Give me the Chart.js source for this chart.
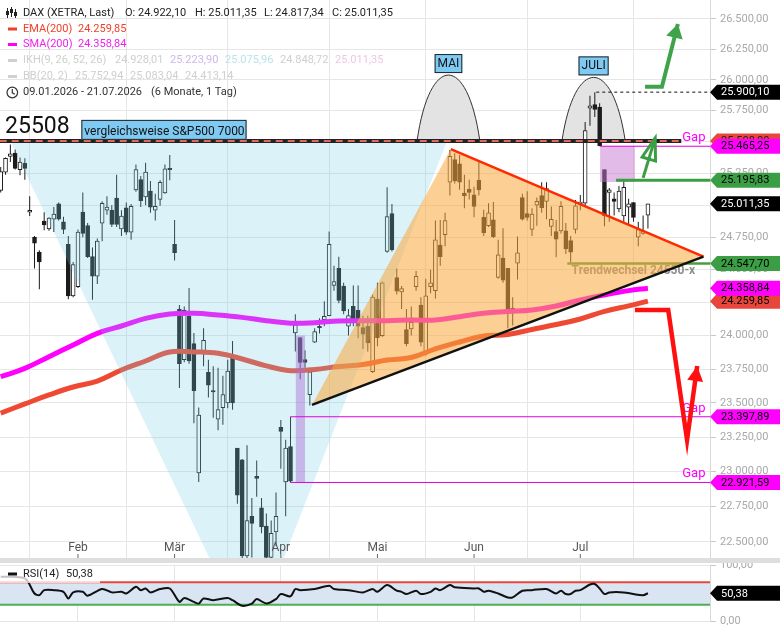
<!DOCTYPE html>
<html>
<head>
<meta charset="utf-8">
<title>DAX</title>
<script src="https://cdn.jsdelivr.net/npm/chart.js@4.4.1/dist/chart.umd.min.js"></script>
<style>
  body { margin: 0; background: #fff; }
  #wrap { position: relative; width: 780px; height: 625px; overflow: hidden; }
  #mainBox { position: absolute; left: 0; top: 0; width: 780px; height: 558px; }
  #sep { position: absolute; left: 0; top: 558px; width: 780px; height: 5px; background: #dedede; }
  #rsiBox { position: absolute; left: 0; top: 563px; width: 780px; height: 62px; }
</style>
</head>
<body>
<div id="wrap">
  <div id="mainBox"><canvas id="main"></canvas></div>
  <div id="sep"></div>
  <div id="rsiBox"><canvas id="rsi"></canvas></div>
</div>
<script>
const FONT = 'Roboto, "Liberation Sans", Arial, sans-serif';
const DARK = '#1b1b1b';

// x = trading day index, 0 = 09.01.2026, 134 = 21.07.2026
const monthIdx = [16, 36, 58, 78, 98, 120];
const monthLbl = ['Feb', 'Mär', 'Apr', 'Mai', 'Jun', 'Jul'];
const priceTicks = [22500, 22750, 23000, 23250, 23500, 23750, 24000, 24250, 24500, 24750, 25000, 25250, 25500, 25750, 26000, 26250, 26500];
const rsiTicks = [0, 100];

const open = [25115,25260,25385,25410,25280,25330,24945,24750,24635,24875,24815,24890,25010,24870,24695,24300,24370,24945,24840,24600,
  24450,24860,24960,24960,25055,24815,24980,24790,25120,25200,25065,25110,24960,25045,25095,25290,24695,24200,23820,24145,
  23940,22990,23880,23725,23590,23380,23465,23500,23840,23170,23085,22400,22680,22965,22740,22610,22390,22570,23320,22925,
  23180,24020,23985,23820,23560,23950,24070,24120,24150,24380,24510,24375,24070,24220,24190,24060,24070,23730,24275,24000,
  24640,24935,24440,24330,24045,24050,24370,24230,23870,24370,24340,24690,24770,25180,25360,25325,25095,25125,25080,25195,
  24905,24840,24885,24440,24590,24510,24205,24550,25060,24935,24810,25000,25075,25030,24835,24795,24800,24800,24725,24810,
  25010,25015,25770,25800,25780,25280,25100,25050,24970,24915,24985,25020,24750,24780,24922.10];
const high = [25300,25375,25480,25440,25375,25370,25070,24760,24650,24945,24905,24985,25020,24910,24760,24560,24810,25100,24860,24670,
  24740,25030,25070,25000,25240,24960,25020,25010,25320,25230,25335,25190,25090,25195,25320,25395,24885,24230,24220,24360,
  24020,23465,24055,23820,23770,23760,23700,23820,23960,23170,23090,23190,22810,23080,22810,22700,22650,22850,23375,23230,
  23397.89,24160,23985,23890,23760,24055,24130,24260,24795,24530,24600,24400,24200,24380,24380,24150,24150,24310,24400,24410,
  25140,25010,24510,24375,24200,24220,24490,24290,24430,24500,24880,24885,24940,25435,25410,25395,25240,25200,25145,25355,
  24965,25015,25025,24730,24820,24510,24290,24755,25090,25110,24975,25060,25180,25180,24990,24885,25030,24860,24760,25040,
  25080,25660,25870,25900.10,25810,25280,25135,25100,25150,25200,25050,25025,24870,24920,25011.35];
const low = [25100,25240,25340,25280,25235,25200,24915,24510,24350,24805,24800,24790,24880,24775,24275,24290,24360,24750,24590,24270,
  24390,24720,24925,24830,24830,24760,24770,24730,25105,24985,25000,24940,24880,24995,25090,25195,24570,23610,23800,23790,
  23350,22925,23770,23540,23390,23300,23340,23460,23450,22770,22380,22380,22390,22820,22560,22370,22370,22470,23020,22680,
  22921.59,23880,23675,23760,23480,23945,24015,24070,24150,24340,24245,24160,24000,24070,23980,23900,23880,23720,23920,23990,
  24630,24640,24310,24200,23920,24000,24340,23920,23850,24320,24280,24530,24680,25075,25170,25120,24975,25045,24905,25075,
  24760,24830,24745,24430,24400,24055,24075,24425,24880,24880,24760,24840,24940,24890,24760,24595,24780,24620,24560,24780,
  24960,24990,25630,25700,25465.25,24835,24870,24920,24945,24870,24840,24870,24680,24770,24817.34];
const close = [25265,25370,25405,25290,25340,25290,24960,24705,24560,24845,24900,24930,24890,24810,24300,24540,24790,24780,24600,24450,
  24720,25015,24985,24850,24850,24915,24790,24990,25280,25035,25260,24985,24990,25180,25285,25280,24630,23790,24190,23810,
  23590,23410,23965,23630,23580,23450,23560,23735,23500,22830,22400,22650,22630,22950,22605,22390,22560,22680,23290,23170,
  22930,24080,23800,23800,23730,24030,24060,24145,24695,24410,24265,24185,24150,24120,24070,24010,23945,24290,23985,24400,
  24910,24655,24335,24355,23940,24100,24450,23950,24300,24400,24730,24600,24880,25385,25190,25180,25075,25100,24990,25120,
  24785,24940,24755,24615,24420,24190,24185,24630,24890,24905,24930,25030,24980,25130,24890,24735,24990,24660,24635,24995,
  25025,25590,25790,25760,25470,24915,25120,25030,25110,25140,25010,24905,24810,24795,25011.35];

const maDays = [0,5,10,15,20,25,30,35,40,45,50,55,60,65,70,75,80,85,90,95,100,105,110,115,120,125,130,134];
const sma200 = [23693,23755,23842,23929,24017,24072,24130,24163,24168,24155,24137,24112,24093,24097,24110,24112,24112,24117,24117,24142,24168,24181,24193,24223,24269,24307,24340,24358.84];
const ema200 = [23425,23492,23558,23617,23661,23743,23810,23877,23877,23867,23825,23773,23738,23747,23769,23784,23817,23836,23900,23952,23997,24008,24046,24083,24125,24182,24224,24259.85];

const rsiDays = [0,5,7,8,9,11,13,14,15,17,18,21,23,25,26,28,29,30,31,33,35,37,38,40,41,42,44,47,48,50,52,53,55,57,58,60,61,62,65,68,69,72,75,77,
  78,80,82,83,84,86,87,89,90,91,93,94,98,99,100,101,103,105,106,108,110,113,115,116,117,118,119,120,122,123,124,125,126,129,131,133,134];
const rsi = [80,77,50,47,56,56,53,41,52,53,46,58,52,53,50,62,56,59,52,58,59,35,42,35,32,41,38,42,38,28,32,40,32,40,49,45,58,56,58,64,58,56,52,58,
  53,65,55,53,49,55,49,53,59,56,65,61,59,59,53,55,50,43,43,55,56,58,50,55,49,49,55,56,66,67,59,49,52,52,49,47,50.38];

// drawn analysis (day index, price)
const resistance = 25508;
const trendLevel = 24547.70;
const greenLevel = 25195.83;
const topHigh = 25900.10;
const gapLevels = [25465.25, 23397.89, 22921.59];
const gapFrom = [124.1, 60, 60];
const blueWedge = [[2.0, 25508], [92.4, 25508], [54.1, 22000], [48.7, 22000]];
const triangle = [[64.45, 23485], [93.2, 25443], [145.5, 24600]];
const domes = [{ text: 'MAI', from: 86.2, to: 99.2, peak: 26039 }, { text: 'JULI', from: 116.2, to: 129.3, peak: 26020 }];
const gapBoxes = [{ from: 61.1, to: 63.0, lo: 22921.59, hi: 24000, color: 'rgba(170,110,210,0.45)' },
                  { from: 124.1, to: 131.3, lo: 25182, hi: 25465.25, color: 'rgba(200,120,210,0.5)' }];
const upArrow = [[133.4, 25944], [136.9, 25944], [140.2, 26459]];
const smallArrow = [[133.0, 25214], [135.5, 25531]];
const downArrow = [[131.3, 24193], [138.2, 24193], [142.1, 23229], [144.2, 23773]];

const tagVals = [25508, 25900.10, 25465.25, 25195.83, 25011.35, 24547.70, 24259.85, 24358.84, 23397.89, 22921.59];
const tagBg = ['#e8453c', '#000', '#ff00ff', '#3c9e44', '#000', '#3c9e44', '#e8453c', '#ff00ff', '#ff00ff', '#ff00ff'];
const tagFg = ['#222', '#fff', '#000', '#000', '#fff', '#000', '#000', '#000', '#000', '#000'];

const xMin = -0.145, xMax = 146.85;

function fmt(v) {
  const s = v.toFixed(2).split('.');
  return s[0].replace(/\B(?=(\d{3})+(?!\d))/g, '.') + ',' + s[1];
}

function poly(ctx, pts) {
  ctx.beginPath();
  pts.forEach((p, k) => k ? ctx.lineTo(p[0], p[1]) : ctx.moveTo(p[0], p[1]));
  ctx.closePath();
}

function path(ctx, pts, color, w, dash) {
  ctx.beginPath();
  pts.forEach((p, k) => k ? ctx.lineTo(p[0], p[1]) : ctx.moveTo(p[0], p[1]));
  ctx.strokeStyle = color;
  ctx.lineWidth = w;
  ctx.setLineDash(dash || []);
  ctx.stroke();
  ctx.setLineDash([]);
}

function arrowHead(ctx, from, tip, len, hw) {
  const ang = Math.atan2(tip[1] - from[1], tip[0] - from[0]);
  const bx = tip[0] - len * Math.cos(ang), by = tip[1] - len * Math.sin(ang);
  ctx.beginPath();
  ctx.moveTo(tip[0], tip[1]);
  ctx.lineTo(bx + hw * Math.sin(ang), by - hw * Math.cos(ang));
  ctx.lineTo(bx - hw * Math.sin(ang), by + hw * Math.cos(ang));
  ctx.closePath();
}

function tag(ctx, x0, y, text, bg, fg) {
  ctx.beginPath();
  ctx.moveTo(x0, y);
  ctx.lineTo(x0 + 7, y - 7.5);
  ctx.lineTo(780, y - 7.5);
  ctx.lineTo(780, y + 7.5);
  ctx.lineTo(x0 + 7, y + 7.5);
  ctx.closePath();
  ctx.fillStyle = bg;
  ctx.fill();
  ctx.fillStyle = fg;
  ctx.font = '11px ' + FONT;
  ctx.textAlign = 'left';
  ctx.textBaseline = 'middle';
  ctx.fillText(text, x0 + 11, y + 0.5);
}

function xAxis() {
  return {
    type: 'linear', min: xMin, max: xMax, offset: false,
    afterBuildTicks: s => { s.ticks = monthIdx.map(v => ({ value: v })); },
    ticks: { display: false },
    grid: { color: '#e6e6e6', drawTicks: false },
    border: { display: false },
    afterFit: s => { s.height = 0; s.paddingLeft = 0; s.paddingRight = 0; }
  };
}

const mainPlugin = {
  id: 'mainOverlay',
  beforeDatasetsDraw(c) {
    const { ctx, chartArea: a } = c;
    const X = v => c.scales.x.getPixelForValue(v), Y = v => c.scales.y.getPixelForValue(v);
    ctx.save();
    ctx.beginPath(); ctx.rect(a.left, a.top, a.width, a.height); ctx.clip();
    domes.forEach(d => {
      const x0 = X(d.from), x1 = X(d.to), yb = Y(resistance);
      const h = (yb - Y(d.peak)) / 0.75, w = x1 - x0;
      ctx.beginPath();
      ctx.moveTo(x0, yb);
      ctx.bezierCurveTo(x0 + w * 0.2, yb - h, x1 - w * 0.2, yb - h, x1, yb);
      ctx.fillStyle = '#e3e3e3';
      ctx.fill();
      ctx.strokeStyle = '#333';
      ctx.lineWidth = 1;
      ctx.stroke();
    });
    ctx.restore();
  },
  afterDatasetsDraw(c) {
    const { ctx, chartArea: a } = c;
    const X = v => c.scales.x.getPixelForValue(v), Y = v => c.scales.y.getPixelForValue(v);
    const P = p => [X(p[0]), Y(p[1])];
    ctx.save();
    ctx.beginPath(); ctx.rect(a.left, a.top, a.width, a.height); ctx.clip();

    // trend change level and note, below the coloured overlays
    path(ctx, [[X(117.3), Y(trendLevel)], [a.right, Y(trendLevel)]], '#4a9e3a', 2.5);
    ctx.fillStyle = '#8d8d8d';
    ctx.font = 'bold 12px ' + FONT;
    ctx.textAlign = 'left';
    ctx.textBaseline = 'alphabetic';
    ctx.fillText('Trendwechsel 24550-x', X(118.2), Y(trendLevel) + 11);

    // blue wedge
    poly(ctx, blueWedge.map(P));
    ctx.fillStyle = 'rgba(110,205,228,0.25)';
    ctx.fill();

    // triangle
    poly(ctx, triangle.map(P));
    ctx.fillStyle = 'rgba(250,168,60,0.55)';
    ctx.fill();
    path(ctx, [P(triangle[1]), P(triangle[2])], '#ff2a00', 2.5);
    path(ctx, [P(triangle[0]), P(triangle[2])], '#111', 2.5);

    // resistance line
    const yr = Y(resistance);
    path(ctx, [[X(-0.2), yr], [X(140.9), yr]], '#222', 4);
    path(ctx, [[X(-0.2), yr], [X(140.9), yr]], '#e06a5a', 2, [7, 5]);

    // gap boxes and gap lines
    gapBoxes.forEach(b => {
      ctx.fillStyle = b.color;
      ctx.fillRect(X(b.from), Y(b.hi), X(b.to) - X(b.from), Y(b.lo) - Y(b.hi));
    });
    gapLevels.forEach((g, k) => {
      path(ctx, [[X(gapFrom[k]), Y(g)], [a.right, Y(g)]], '#e000e0', 1);
      ctx.fillStyle = '#ff00ff';
      ctx.font = '13px ' + FONT;
      ctx.fillText('Gap', X(141.1), Y(g) - 5);
    });

    // high of the run
    path(ctx, [[X(123.3), Y(topHigh)], [a.right, Y(topHigh)]], '#111', 1, [3, 3]);

    // green level and arrows
    path(ctx, [[X(127.4), Y(greenLevel)], [a.right, Y(greenLevel)]], '#3c9e44', 3);
    const sa = smallArrow.map(P);
    path(ctx, sa, '#3c9e44', 3);
    arrowHead(ctx, sa[0], sa[1], 22, 7);
    ctx.strokeStyle = '#3c9e44'; ctx.lineWidth = 3; ctx.lineJoin = 'miter'; ctx.stroke();

    const ua = upArrow.map(P);
    path(ctx, ua, '#3fa34a', 4);
    arrowHead(ctx, ua[1], ua[2], 14, 8.5);
    ctx.fillStyle = '#3fa34a'; ctx.fill();

    const da = downArrow.map(P);
    path(ctx, da, '#ff1010', 4.5);
    arrowHead(ctx, da[2], da[3], 15, 8);
    ctx.fillStyle = '#ff1010'; ctx.fill();

    // dome labels
    ctx.font = '12px ' + FONT;
    domes.forEach(d => {
      const cx = (X(d.from) + X(d.to)) / 2, w = ctx.measureText(d.text).width + 6, yb = Y(d.peak) - 2;
      ctx.fillStyle = '#7fcaf2';
      ctx.fillRect(cx - w / 2, yb - 19, w, 19);
      ctx.strokeStyle = '#222'; ctx.lineWidth = 1;
      ctx.strokeRect(cx - w / 2 + 0.5, yb - 18.5, w - 1, 18);
      ctx.fillStyle = '#111';
      ctx.textAlign = 'center';
      ctx.textBaseline = 'middle';
      ctx.fillText(d.text, cx, yb - 9);
    });

    // level note
    ctx.textAlign = 'left';
    ctx.textBaseline = 'alphabetic';
    ctx.fillStyle = '#111';
    ctx.font = '23px ' + FONT;
    ctx.fillText('25508', X(0.9), yr - 8);
    const bx0 = X(16.7), bx1 = X(50.9);
    ctx.fillStyle = '#7fcaf2';
    ctx.fillRect(bx0, yr - 21, bx1 - bx0, 20);
    ctx.strokeStyle = '#222'; ctx.lineWidth = 1;
    ctx.strokeRect(bx0 + 0.5, yr - 20.5, bx1 - bx0 - 1, 19);
    ctx.fillStyle = '#111';
    ctx.font = '12px ' + FONT;
    ctx.fillText('vergleichsweise S&P500 7000', bx0 + 3, yr - 6);
    ctx.restore();
  },
  afterDraw(c) {
    const { ctx, chartArea: a } = c;
    const X = v => c.scales.x.getPixelForValue(v), Y = v => c.scales.y.getPixelForValue(v);
    ctx.save();
    // month labels
    ctx.font = '12px ' + FONT;
    ctx.fillStyle = '#555';
    ctx.textAlign = 'center';
    ctx.textBaseline = 'middle';
    monthIdx.forEach((m, k) => {
      ctx.fillText(monthLbl[k], X(m), a.bottom - 10);
      path(ctx, [[X(m), a.bottom - 4], [X(m), a.bottom]], '#666', 1);
    });
    // price tags
    tagVals.forEach((v, k) => tag(ctx, a.right, Y(v), fmt(v), tagBg[k], tagFg[k]));

    // legend
    const rows = [
      { y: 13, parts: [[23, 'DAX (XETRA, Last)', '#222'], [125, 'O: 24.922,10', '#222'], [195, 'H: 25.011,35', '#222'], [264, 'L: 24.817,34', '#222'], [332, 'C: 25.011,35', '#222']] },
      { y: 29, icon: '#f0402a', parts: [[23, 'EMA(200)', '#f0402a'], [78, '24.259,85', '#f0402a']] },
      { y: 44.5, icon: '#ff00ff', parts: [[23, 'SMA(200)', '#f020f0'], [78, '24.358,84', '#f020f0']] },
      { y: 60.5, icon: '#d0d0d0', parts: [[23, 'IKH(9, 26, 52, 26)', '#cfcfcf'], [115, '24.928,01', '#cfcfcf'], [170, '25.223,90', '#cdb8ea'], [225, '25.075,96', '#b9e3ee'], [280, '24.848,72', '#cfcfcf'], [335, '25.011,35', '#ecc8e4']] },
      { y: 76.5, icon: '#d0d0d0', parts: [[23, 'BB(20, 2)', '#cfcfcf'], [75, '25.752,94', '#cfcfcf'], [130, '25.083,04', '#cfcfcf'], [185, '24.413,14', '#cfcfcf']] },
      { y: 92.5, parts: [[23, '09.01.2026 - 21.07.2026', '#333'], [151, '(6 Monate, 1 Tag)', '#333']] }
    ];
    ctx.font = '11px ' + FONT;
    ctx.textAlign = 'left';
    ctx.textBaseline = 'middle';
    rows.forEach(r => {
      if (r.icon) { ctx.fillStyle = r.icon; ctx.fillRect(8, r.y - 1.5, 9, 3); }
      r.parts.forEach(p => { ctx.fillStyle = p[2]; ctx.fillText(p[1], p[0], r.y); });
    });
    // candle icon
    ctx.strokeStyle = '#222'; ctx.lineWidth = 1;
    [[7.5, 8, 18, 11, 15], [11.5, 7, 17, 9, 13], [15.5, 9, 18, 12, 16]].forEach(q => {
      path(ctx, [[q[0], q[1]], [q[0], q[2]]], '#222', 1);
      ctx.fillStyle = '#222';
      ctx.fillRect(q[0] - 1.5, q[3], 3, q[4] - q[3]);
    });
    // clock icon
    ctx.beginPath(); ctx.arc(12.3, 92.5, 5.3, 0, Math.PI * 2);
    ctx.strokeStyle = '#333'; ctx.lineWidth = 1.2; ctx.stroke();
    path(ctx, [[12.3, 89], [12.3, 92.8], [14.8, 94.3]], '#333', 1.2);
    ctx.restore();
  }
};

new Chart(document.getElementById('main'), {
  type: 'bar',
  data: {
    datasets: [
      { type: 'line', data: maDays.map((d, k) => ({ x: d, y: sma200[k] })), borderColor: '#ff00ff', borderWidth: 5, pointRadius: 0, tension: 0.4, order: 0 },
      { type: 'line', data: maDays.map((d, k) => ({ x: d, y: ema200[k] })), borderColor: '#ee4a33', borderWidth: 5, pointRadius: 0, tension: 0.4, order: 0 },
      { type: 'bar', data: open.map((o, k) => ({ x: k, y: [o, close[k]] })), backgroundColor: open.map((o, k) => close[k] >= o ? '#ffffff' : DARK),
        borderColor: DARK, borderWidth: 1, borderSkipped: false, barThickness: 4, grouped: false, order: 1 },
      { type: 'bar', data: high.map((h, k) => ({ x: k, y: [low[k], h] })), backgroundColor: DARK, barThickness: 1, inflateAmount: 0, grouped: false, order: 2 }
    ]
  },
  options: {
    responsive: true, maintainAspectRatio: false, animation: false, events: [],
    layout: { padding: 0 },
    plugins: { legend: { display: false }, tooltip: { enabled: false } },
    scales: {
      x: xAxis(),
      y: {
        type: 'logarithmic', position: 'right', min: 22386, max: 26658,
        afterBuildTicks: s => { s.ticks = priceTicks.map(v => ({ value: v })); },
        ticks: { callback: v => fmt(v), color: '#a8a8a8', font: { family: FONT, size: 11 }, padding: 4, autoSkip: false },
        grid: { color: '#e6e6e6', tickLength: 6, tickColor: '#c8c8c8' },
        border: { color: '#d8d8d8' },
        afterFit: s => { s.width = 70; s.paddingTop = 0; s.paddingBottom = 0; }
      }
    }
  },
  plugins: [mainPlugin]
});

const rsiPlugin = {
  id: 'rsiOverlay',
  beforeDatasetsDraw(c) {
    const { ctx, chartArea: a } = c;
    const Y = v => c.scales.y.getPixelForValue(v);
    ctx.save();
    ctx.fillStyle = '#d9e5f2';
    ctx.fillRect(a.left, Y(70), a.width, Y(30) - Y(70));
    path(ctx, [[a.left, Y(70)], [a.right, Y(70)]], '#e8473a', 2);
    path(ctx, [[a.left, Y(30)], [a.right, Y(30)]], '#4caf50', 2);
    ctx.restore();
  },
  afterDraw(c) {
    const { ctx, chartArea: a } = c;
    const Y = v => c.scales.y.getPixelForValue(v);
    ctx.save();
    ctx.fillStyle = 'rgba(255,255,255,0.75)';
    ctx.fillRect(0, 3, 100, 17);
    ctx.fillStyle = '#111';
    ctx.fillRect(8, 9.5, 9, 3);
    ctx.font = '11px ' + FONT;
    ctx.textAlign = 'left';
    ctx.textBaseline = 'middle';
    ctx.fillStyle = '#222';
    ctx.fillText('RSI(14)', 23, 11);
    ctx.fillText('50,38', 66, 11);
    tag(ctx, a.right, Y(rsi[rsi.length - 1]), fmt(rsi[rsi.length - 1]), '#000', '#fff');
    ctx.restore();
  }
};

new Chart(document.getElementById('rsi'), {
  type: 'line',
  data: {
    datasets: [{ data: rsiDays.map((d, k) => ({ x: d, y: rsi[k] })), borderColor: '#111', borderWidth: 2, pointRadius: 0, tension: 0.3 }]
  },
  options: {
    responsive: true, maintainAspectRatio: false, animation: false, events: [],
    layout: { padding: { top: 2.5, bottom: 3.5, left: 0, right: 0 } },
    plugins: { legend: { display: false }, tooltip: { enabled: false } },
    scales: {
      x: xAxis(),
      y: {
        position: 'right', min: 0, max: 100,
        afterBuildTicks: s => { s.ticks = rsiTicks.map(v => ({ value: v })); },
        ticks: { callback: v => fmt(v), color: '#a8a8a8', font: { family: FONT, size: 11 }, padding: 4 },
        grid: { color: '#e6e6e6', tickLength: 6, tickColor: '#c8c8c8' },
        border: { color: '#d8d8d8' },
        afterFit: s => { s.width = 70; s.paddingTop = 0; s.paddingBottom = 0; }
      }
    }
  },
  plugins: [rsiPlugin]
});
</script>
</body>
</html>
